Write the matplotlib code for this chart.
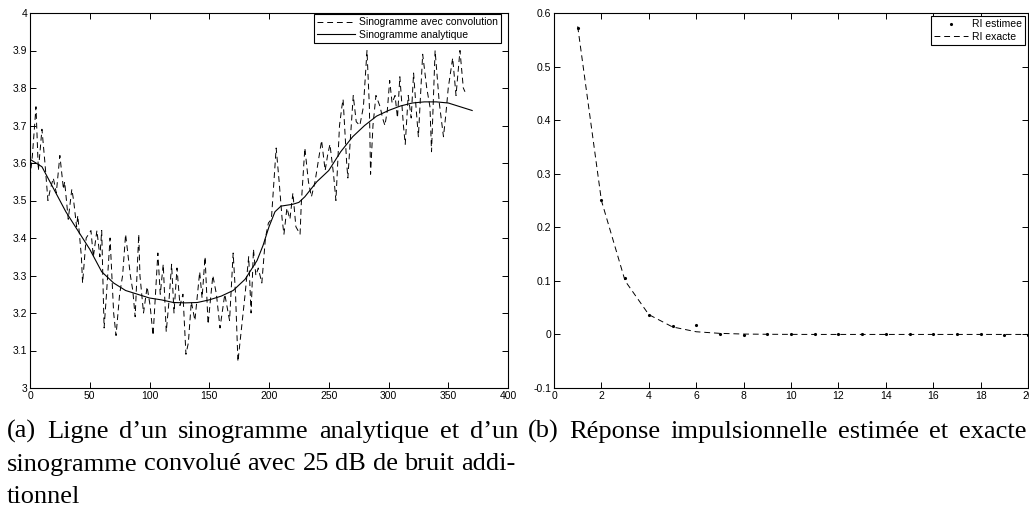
import matplotlib
matplotlib.use("Agg")
import matplotlib.pyplot as plt

# DATA
# (a) noisy convolved sinogram line
noisy_x = [0, 2, 5, 7, 10, 12.5, 15, 17, 19.5, 22, 25, 28, 29, 32, 35, 36.5, 39, 40, 43, 44,
           47, 51, 53, 56, 58.5, 60, 62, 64, 67, 70, 72, 75, 77.5, 80, 84, 86, 88, 91, 92,
           95, 98, 100.5, 103, 107, 109, 111.5, 114, 116, 118.5, 120.5, 123, 125.5, 128,
           130.5, 132.5, 135, 138, 142, 144, 146.5, 149, 153, 156, 159, 163, 167, 170,
           172, 174, 177, 180, 183, 185, 187, 189, 191, 194, 197, 199.5, 202, 206, 208.5,
           211, 212.5, 215, 217.5, 220, 222.5, 226, 227, 230, 233, 235.5, 238.5, 241, 244,
           247, 249, 251, 254, 256, 259, 261, 262, 265, 266, 268, 270.5, 273, 276, 279,
           282, 284, 285, 287, 289.5, 293, 295, 297, 299, 301, 303, 305.5, 307.5, 309.5,
           312.5, 314, 316.5, 319, 321, 323, 325, 328.6, 332, 334.7, 336, 339, 342.5, 346,
           348, 350, 353.7, 356.5, 359.8, 362.6, 364]
noisy_y = [3.56, 3.62, 3.75, 3.58, 3.69, 3.60, 3.50, 3.53, 3.56, 3.52, 3.62, 3.53, 3.55,
           3.45, 3.53, 3.50, 3.43, 3.46, 3.35, 3.28, 3.40, 3.42, 3.35, 3.42, 3.35, 3.42,
           3.16, 3.25, 3.40, 3.20, 3.14, 3.25, 3.30, 3.41, 3.30, 3.26, 3.19, 3.41, 3.30,
           3.20, 3.27, 3.22, 3.14, 3.36, 3.25, 3.33, 3.15, 3.22, 3.33, 3.20, 3.32, 3.22,
           3.25, 3.09, 3.12, 3.23, 3.18, 3.31, 3.24, 3.35, 3.17, 3.30, 3.25, 3.16, 3.25,
           3.18, 3.36, 3.25, 3.07, 3.16, 3.25, 3.35, 3.20, 3.37, 3.30, 3.32, 3.28, 3.40,
           3.44, 3.45, 3.64, 3.55, 3.45, 3.41, 3.48, 3.45, 3.52, 3.43, 3.41, 3.49, 3.64,
           3.55, 3.51, 3.55, 3.60, 3.66, 3.58, 3.62, 3.65, 3.57, 3.50, 3.70, 3.75, 3.77,
           3.60, 3.56, 3.66, 3.78, 3.71, 3.70, 3.75, 3.90, 3.75, 3.57, 3.70, 3.78, 3.75,
           3.72, 3.70, 3.74, 3.82, 3.76, 3.78, 3.72, 3.83, 3.70, 3.65, 3.78, 3.72, 3.84,
           3.75, 3.67, 3.89, 3.80, 3.75, 3.63, 3.90, 3.76, 3.67, 3.73, 3.80, 3.88, 3.78,
           3.90, 3.80, 3.79]
# (a) analytic sinogram line
smooth_x = [0, 10, 20, 30, 40, 50, 60, 70, 80, 90, 100, 110, 120, 130, 140, 150, 160,
            170, 180, 190, 195, 200, 205, 210, 220, 225, 230, 240, 250, 260, 270, 280,
            290, 300, 310, 320, 330, 340, 350, 360, 370]
smooth_y = [3.61, 3.59, 3.53, 3.47, 3.42, 3.37, 3.31, 3.28, 3.26, 3.25, 3.24, 3.235,
            3.228, 3.227, 3.228, 3.235, 3.245, 3.26, 3.29, 3.34, 3.38, 3.43, 3.47, 3.485,
            3.49, 3.495, 3.51, 3.55, 3.58, 3.63, 3.67, 3.70, 3.725, 3.74, 3.752, 3.76,
            3.763, 3.763, 3.76, 3.75, 3.74]

# (b) impulse response, estimated and exact
ri_x = list(range(1, 21))
ri_est = [0.572, 0.251, 0.105, 0.037, 0.015, 0.017, 0.0, -0.001, 0.0, 0.0, 0.0, 0.0,
          0.0, 0.0, 0.001, 0.0, 0.0, 0.0, -0.001, -0.001]
ri_exact = [0.575, 0.25, 0.10, 0.037, 0.014, 0.005, 0.002, 0.0007, 0.0003, 0.0001,
            0.0, 0.0, 0.0, 0.0, 0.0, 0.0, 0.0, 0.0, 0.0, 0.0]

left_yticks = [3 + i / 10 for i in range(11)]
left_ylabels = ['3', '3.1', '3.2', '3.3', '3.4', '3.5', '3.6', '3.7', '3.8', '3.9', '4']
right_yticks = [-0.1, 0, 0.1, 0.2, 0.3, 0.4, 0.5, 0.6]
right_ylabels = ['-0.1', '0', '0.1', '0.2', '0.3', '0.4', '0.5', '0.6']

caption_a = ["(a) Ligne d’un sinogramme analytique et d’un",
             "sinogramme convolué avec 25 dB de bruit addi-",
             "tionnel"]
caption_b = "(b) Réponse impulsionnelle estimée et exacte"

plt.rcParams['font.family'] = ['Liberation Sans', 'DejaVu Sans']

W, H = 1029, 507
fig = plt.figure(figsize=(W / 100, H / 100), dpi=100)
DASH = (0, (6, 4))


def style(ax):
    ax.tick_params(direction='in', top=True, right=True, length=4, width=0.7,
                   labelsize=7.5, pad=2)
    for s in ax.spines.values():
        s.set_linewidth(0.8)


# (a)
ax1 = fig.add_axes([30 / W, (H - 388) / H, 478 / W, 375 / H])
ax1.plot(noisy_x, noisy_y, color='black', lw=0.7, ls=DASH,
         label='Sinogramme avec convolution')
ax1.plot(smooth_x, smooth_y, color='black', lw=0.8, label='Sinogramme analytique')
ax1.set_xlim(0, 400)
ax1.set_ylim(3, 4)
ax1.set_xticks(range(0, 401, 50))
ax1.set_yticks(left_yticks)
ax1.set_yticklabels(left_ylabels)
style(ax1)
leg = ax1.legend(loc='upper right', bbox_to_anchor=(0.987, 1.0), fontsize=7.5,
                 fancybox=False, edgecolor='black', framealpha=1, borderaxespad=0.1,
                 handlelength=3.6, handletextpad=0.4, borderpad=0.3, labelspacing=0.25)
leg.get_frame().set_linewidth(0.8)

# (b)
ax2 = fig.add_axes([554 / W, (H - 388) / H, 474 / W, 375 / H])
ax2.plot(ri_x, ri_est, ls='none', marker='.', ms=2.5, color='black', label='RI estimee')
ax2.plot(ri_x, ri_exact, color='black', lw=0.7, ls=DASH, label='RI exacte')
ax2.set_xlim(0, 20)
ax2.set_ylim(-0.1, 0.6)
ax2.set_xticks(range(0, 21, 2))
ax2.set_yticks(right_yticks)
ax2.set_yticklabels(right_ylabels)
style(ax2)
leg2 = ax2.legend(loc='upper right', fontsize=7.5, fancybox=False, edgecolor='black',
                  framealpha=1, borderaxespad=0.3, handlelength=3.2,
                  handletextpad=0.4, borderpad=0.3, labelspacing=0.25)
leg2.get_frame().set_linewidth(0.8)

# captions, justified like the typeset page
cap_font = dict(family=['Liberation Serif', 'DejaVu Serif'], fontsize=19, va='baseline')
renderer = fig.canvas.get_renderer()


def justified(line, x0, x1, base):
    words = line.split(' ')
    widths = []
    for w in words:
        t = fig.text(0, 0, w, **cap_font)
        widths.append(t.get_window_extent(renderer).width)
        t.remove()
    gap = (x1 - x0 - sum(widths)) / (len(words) - 1)
    x = x0
    for w, wd in zip(words, widths):
        fig.text(x / W, (H - base) / H, w, **cap_font)
        x += wd + gap


justified(caption_a[0], 7, 518, 438)
justified(caption_a[1], 7, 515, 470.5)
fig.text(7 / W, (H - 503) / H, caption_a[2], **cap_font)
justified(caption_b, 528, 1026, 438)

fig.savefig("out.png", dpi=100)
